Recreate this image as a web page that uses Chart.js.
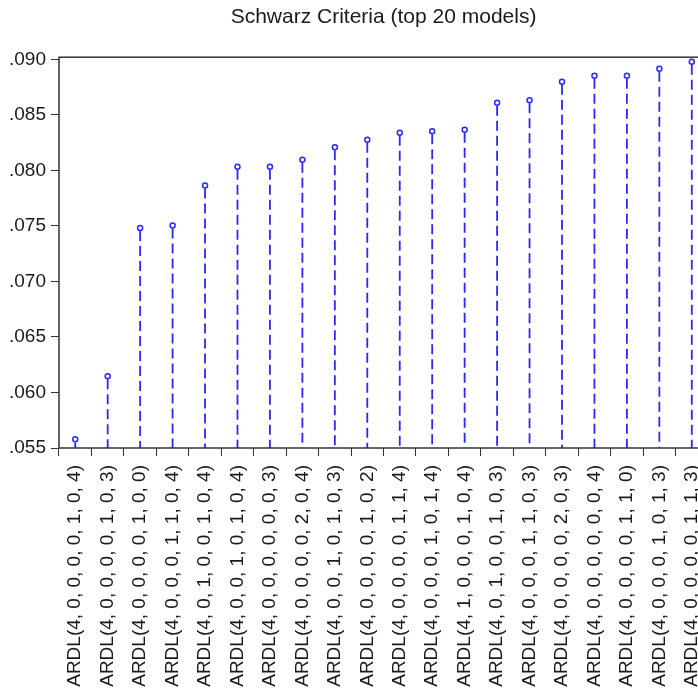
<!DOCTYPE html>
<html>
<head>
<meta charset="utf-8">
<script src="https://cdn.jsdelivr.net/npm/chart.js@4"></script>
<style>
html,body{margin:0;padding:0;overflow:hidden;background:#fff;}
canvas{display:block;}
</style>
</head>
<body>
<canvas id="c" width="724" height="695"></canvas>
<script>
const categories = [
  "ARDL(4, 0, 0, 0, 0, 1, 0, 4)",
  "ARDL(4, 0, 0, 0, 0, 1, 0, 3)",
  "ARDL(4, 0, 0, 0, 0, 1, 0, 0)",
  "ARDL(4, 0, 0, 0, 1, 1, 0, 4)",
  "ARDL(4, 0, 1, 0, 0, 1, 0, 4)",
  "ARDL(4, 0, 0, 1, 0, 1, 0, 4)",
  "ARDL(4, 0, 0, 0, 0, 0, 0, 3)",
  "ARDL(4, 0, 0, 0, 0, 2, 0, 4)",
  "ARDL(4, 0, 0, 1, 0, 1, 0, 3)",
  "ARDL(4, 0, 0, 0, 0, 1, 0, 2)",
  "ARDL(4, 0, 0, 0, 0, 1, 1, 4)",
  "ARDL(4, 0, 0, 0, 1, 0, 1, 4)",
  "ARDL(4, 1, 0, 0, 0, 1, 0, 4)",
  "ARDL(4, 0, 1, 0, 0, 1, 0, 3)",
  "ARDL(4, 0, 0, 0, 1, 1, 0, 3)",
  "ARDL(4, 0, 0, 0, 0, 2, 0, 3)",
  "ARDL(4, 0, 0, 0, 0, 0, 0, 4)",
  "ARDL(4, 0, 0, 0, 0, 1, 1, 0)",
  "ARDL(4, 0, 0, 0, 1, 0, 1, 3)",
  "ARDL(4, 0, 0, 0, 0, 1, 1, 3)"
];
const schwarzValues = [
  0.05578, 0.06147, 0.07481, 0.07505, 0.07865, 0.08033, 0.08033, 0.08096, 0.08210, 0.08276,
  0.08339, 0.08353, 0.08366, 0.08609, 0.08632, 0.08798, 0.08852, 0.08852, 0.08915, 0.08980
];
const yTickValues = [0.055, 0.060, 0.065, 0.070, 0.075, 0.080, 0.085, 0.090];
const yTickLabels = [".055", ".060", ".065", ".070", ".075", ".080", ".085", ".090"];
const chartTitle = "Schwarz Criteria (top 20 models)";

const BLUE = 'rgb(40,40,255)';
const FONT = "'Liberation Sans', Arial, sans-serif";

const stemPlugin = {
  id: 'stems',
  beforeDatasetsDraw(chart) {
    const ctx = chart.ctx;
    const area = chart.chartArea;
    const meta = chart.getDatasetMeta(0);
    ctx.save();
    ctx.strokeStyle = BLUE;
    ctx.lineWidth = 1.8;
    ctx.setLineDash([10, 5]);
    meta.data.forEach(pt => {
      ctx.beginPath();
      ctx.moveTo(pt.x, pt.y + 3);
      ctx.lineTo(pt.x, area.bottom);
      ctx.stroke();
    });
    ctx.restore();
  }
};

const framePlugin = {
  id: 'frame',
  afterDraw(chart) {
    const ctx = chart.ctx;
    const a = chart.chartArea;
    ctx.save();
    ctx.strokeStyle = '#333';
    ctx.lineWidth = 1.5;
    ctx.strokeRect(a.left, a.top, a.right - a.left, a.bottom - a.top);
    ctx.restore();
  }
};

new Chart(document.getElementById('c'), {
  type: 'line',
  data: {
    labels: categories,
    datasets: [{
      data: schwarzValues,
      showLine: false,
      pointStyle: 'circle',
      pointRadius: 2.5,
      pointBorderWidth: 1.5,
      pointBorderColor: BLUE,
      pointBackgroundColor: '#fff',
      borderColor: BLUE
    }]
  },
  options: {
    responsive: false,
    devicePixelRatio: 1,
    animation: false,
    layout: { padding: { left: 0, right: 10, top: 0, bottom: 0 } },
    plugins: {
      legend: { display: false },
      tooltip: { enabled: false },
      title: {
        display: true,
        text: chartTitle,
        fullSize: false,
        color: '#1a1a1a',
        font: { family: FONT, size: 21, weight: 'normal' },
        padding: { top: 5, bottom: 27 }
      }
    },
    scales: {
      x: {
        type: 'category',
        offset: true,
        border: { display: false },
        grid: { offset: true, drawOnChartArea: false, drawTicks: true, tickLength: 8, color: '#333', lineWidth: 1 },
        ticks: {
          autoSkip: false, maxRotation: 90, minRotation: 90,
          padding: 9, color: '#1a1a1a',
          font: { family: FONT, size: 19 }
        },
        afterFit(scale) { scale.height = 247; }
      },
      y: {
        type: 'linear',
        min: 0.055,
        max: 0.0902,
        border: { display: false },
        grid: { drawOnChartArea: false, drawTicks: true, tickLength: 8, color: '#333', lineWidth: 1 },
        afterBuildTicks(scale) { scale.ticks = yTickValues.map(v => ({ value: v })); },
        ticks: {
          padding: 5, color: '#1a1a1a',
          font: { family: FONT, size: 19 },
          callback: (v, i) => yTickLabels[i]
        },
        afterFit(scale) { scale.width = 59; }
      }
    }
  },
  plugins: [stemPlugin, framePlugin]
});
</script>
</body>
</html>
